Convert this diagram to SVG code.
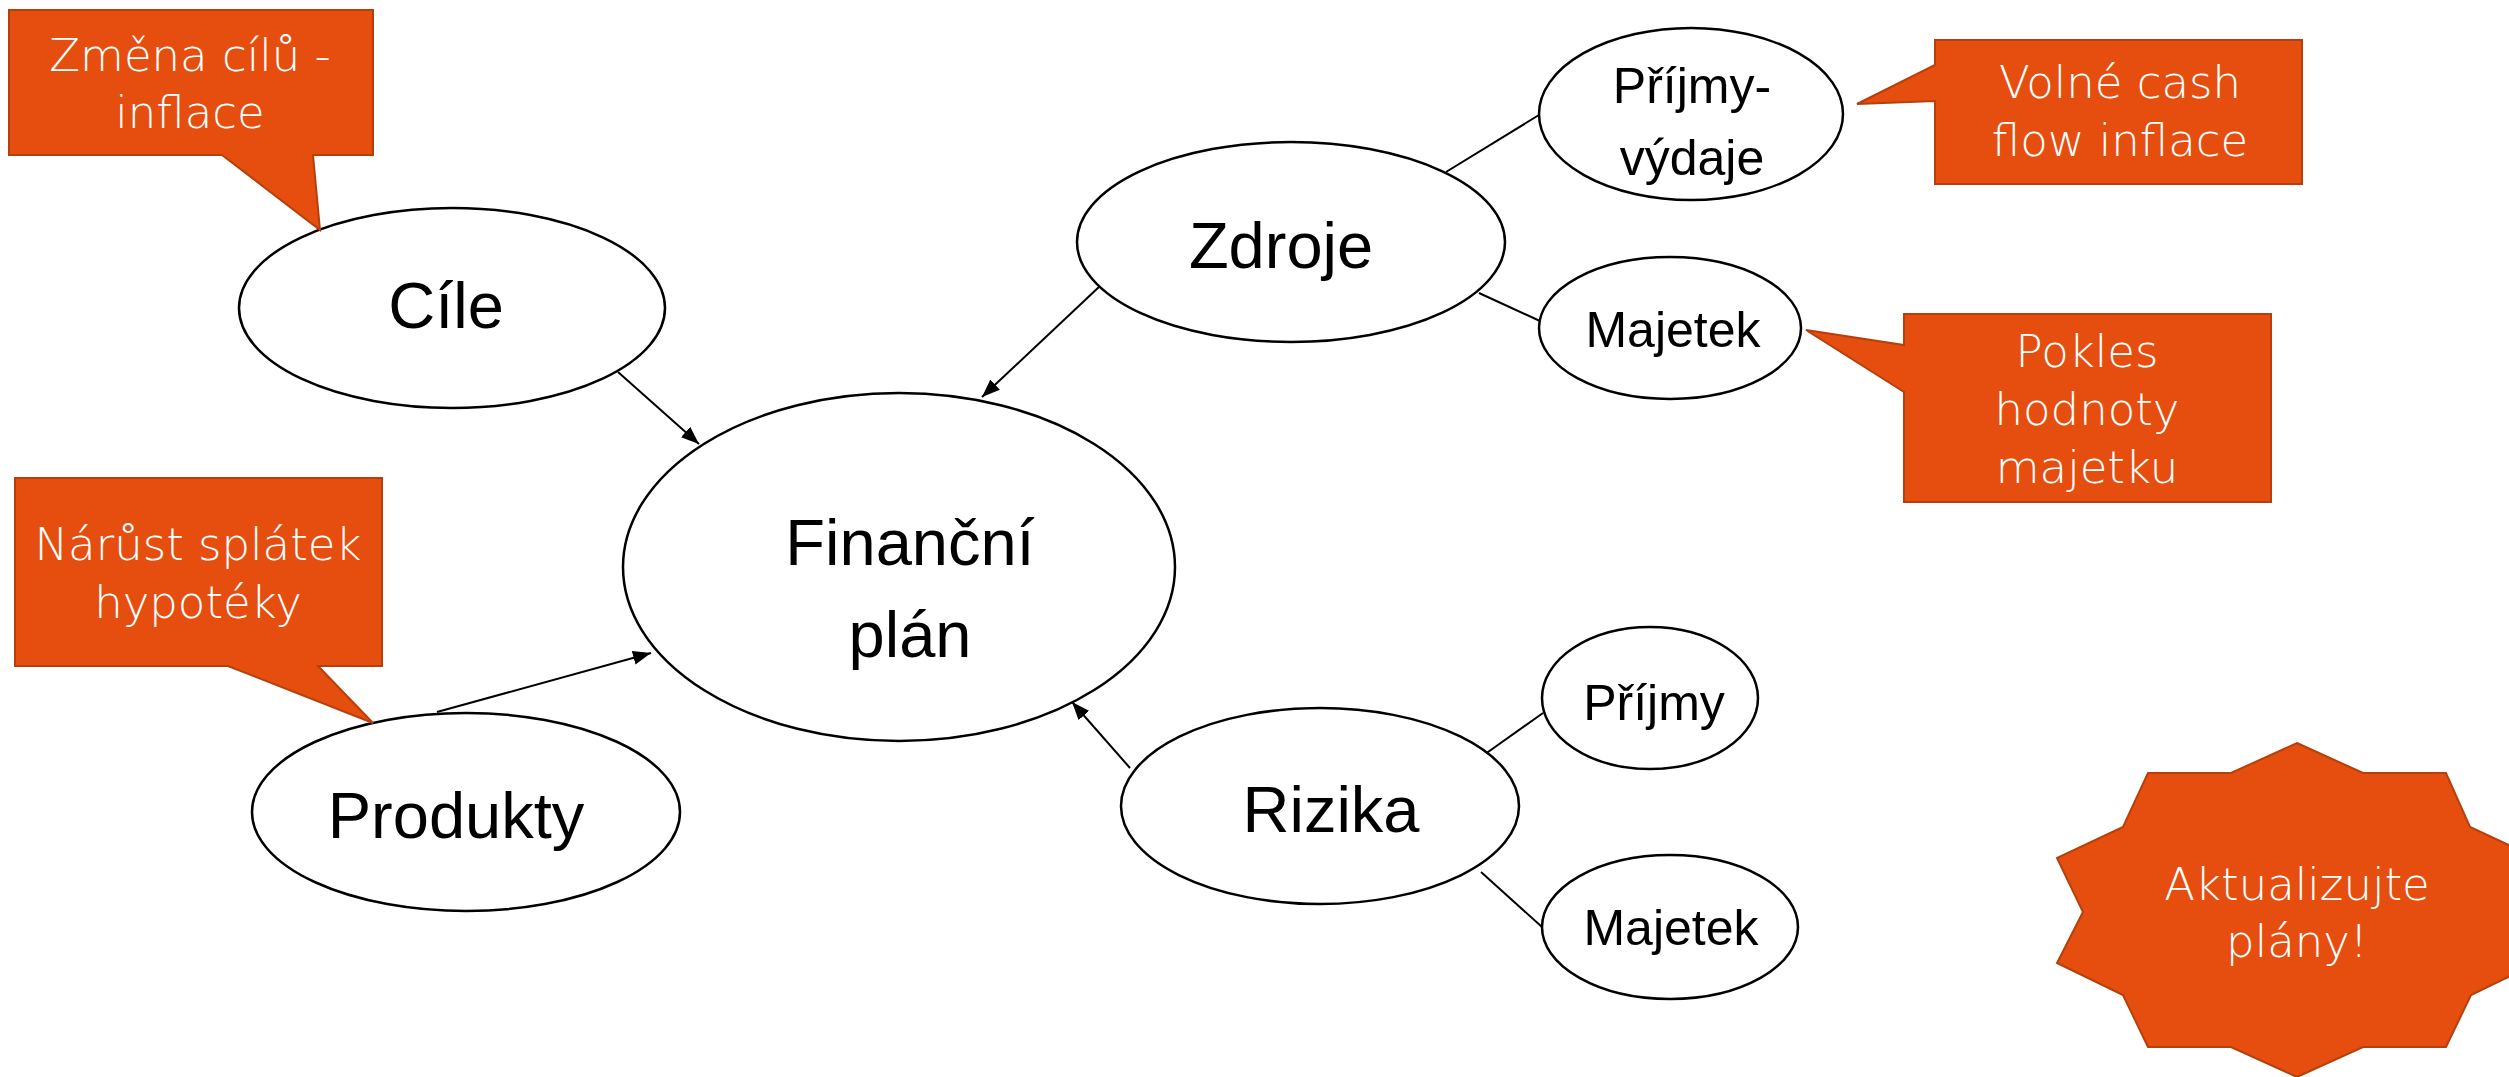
<svg xmlns="http://www.w3.org/2000/svg" width="2509" height="1077" viewBox="0 0 2509 1077">
<defs>
<style>
.node{fill:#fff;stroke:#000;stroke-width:2.5}
.lbl{font-family:"Liberation Sans",Arial,sans-serif;fill:#000;text-anchor:middle}
.big{font-size:65px}
.sm{font-size:50px}
.call{fill:#E54E0F;stroke:#B5400C;stroke-width:2}
.ct{font-family:"DejaVu Sans","Liberation Sans",sans-serif;font-weight:300;font-size:45px;fill:#fff;text-anchor:middle}
.con{stroke:#000;stroke-width:2;fill:none}
</style>
<marker id="arr" markerUnits="userSpaceOnUse" markerWidth="18" markerHeight="14" refX="18" refY="7" orient="auto" viewBox="0 0 18 14">
<path d="M0,0 L18,7 L0,14 Z" fill="#000"/>
</marker>
</defs>
<rect width="2509" height="1077" fill="#fff"/>

<g id="connectors">
<line class="con" x1="618" y1="372" x2="699" y2="444" marker-end="url(#arr)"/>
<line class="con" x1="437" y1="712" x2="651" y2="653" marker-end="url(#arr)"/>
<line class="con" x1="1100" y1="286" x2="982" y2="397" marker-end="url(#arr)"/>
<line class="con" x1="1130" y1="768" x2="1072" y2="702" marker-end="url(#arr)"/>
<line class="con" x1="1446" y1="172" x2="1539" y2="115"/>
<line class="con" x1="1479" y1="293" x2="1540" y2="321"/>
<line class="con" x1="1481" y1="757" x2="1543" y2="713"/>
<line class="con" x1="1481" y1="872" x2="1542" y2="927"/>
</g>

<g id="node-financni-plan">
<ellipse class="node" cx="899" cy="567" rx="276" ry="174"/>
<text class="lbl big" x="910" y="565">Finanční</text>
<text class="lbl big" x="910" y="657">plán</text>
</g>
<g id="node-cile">
<ellipse class="node" cx="452" cy="308" rx="213" ry="100"/>
<text class="lbl big" x="446" y="328">Cíle</text>
</g>
<g id="node-produkty">
<ellipse class="node" cx="466" cy="812" rx="214" ry="99"/>
<text class="lbl big" x="456" y="838">Produkty</text>
</g>
<g id="node-zdroje">
<ellipse class="node" cx="1291" cy="242" rx="214" ry="100"/>
<text class="lbl big" x="1281" y="268">Zdroje</text>
</g>
<g id="node-rizika">
<ellipse class="node" cx="1320" cy="806" rx="199" ry="98"/>
<text class="lbl big" x="1331" y="832">Rizika</text>
</g>
<g id="node-prijmy-vydaje">
<ellipse class="node" cx="1691" cy="114" rx="152" ry="86"/>
<text class="lbl sm" x="1692" y="103">Příjmy-</text>
<text class="lbl sm" x="1692" y="175">výdaje</text>
</g>
<g id="node-majetek-zdroje">
<ellipse class="node" cx="1670" cy="328" rx="131" ry="71"/>
<text class="lbl sm" x="1673" y="347">Majetek</text>
</g>
<g id="node-prijmy">
<ellipse class="node" cx="1650" cy="698" rx="108" ry="71"/>
<text class="lbl sm" x="1654" y="720">Příjmy</text>
</g>
<g id="node-majetek-rizika">
<ellipse class="node" cx="1670" cy="927" rx="128" ry="72"/>
<text class="lbl sm" x="1671" y="945">Majetek</text>
</g>

<g id="callout-zmena-cilu">
<path class="call" d="M9,10 H373 V155 H313 L320,230 L222,155 H9 Z"/>
<text class="ct" x="190" y="71">Změna cílů -</text>
<text class="ct" x="190" y="128">inflace</text>
</g>
<g id="callout-narust-splatek">
<path class="call" d="M15,478 H382 V666 H318 L373,723 L228,666 H15 Z"/>
<text class="ct" x="198" y="560">Nárůst splátek</text>
<text class="ct" x="198" y="618">hypotéky</text>
</g>
<g id="callout-volne-cash-flow">
<path class="call" d="M1935,40 H2302 V184 H1935 V101 L1857,104 L1935,65 Z"/>
<text class="ct" x="2120" y="98">Volné cash</text>
<text class="ct" x="2120" y="156">flow inflace</text>
</g>
<g id="callout-pokles-hodnoty">
<path class="call" d="M1904,314 H2271 V502 H1904 V392 L1806,330 L1904,345 Z"/>
<text class="ct" x="2087" y="367">Pokles</text>
<text class="ct" x="2087" y="425">hodnoty</text>
<text class="ct" x="2087" y="483">majetku</text>
</g>
<g id="burst-aktualizujte">
<path class="call" d="M2297,743 L2363,773 L2446,773 L2470,827 L2537,858 L2511,912 L2537,963 L2471,995 L2446,1047 L2363,1047 L2297,1077 L2231,1047 L2148,1047 L2123,995 L2057,963 L2083,912 L2057,858 L2123,827 L2148,773 L2231,773 Z"/>
<text class="ct" x="2297" y="900">Aktualizujte</text>
<text class="ct" x="2297" y="957">plány!</text>
</g>
</svg>
